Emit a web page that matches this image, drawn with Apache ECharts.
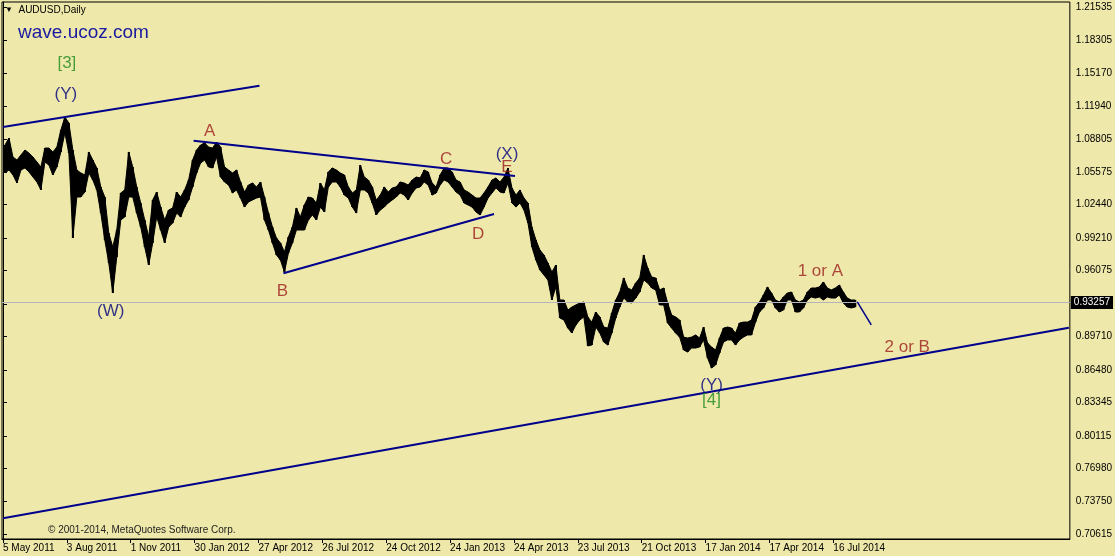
<!DOCTYPE html>
<html><head><meta charset="utf-8">
<script src="https://cdn.jsdelivr.net/npm/echarts@6/dist/echarts.min.js"></script>
<style>html,body{margin:0;padding:0;background:#EEE8AA}#c{width:1115px;height:556px}</style>
</head><body><div id="c"></div>
<script>
// ---- data (AUDUSD daily, sampled every STEP trading days from 5 May 2011) ----
const STEP = 4;
const highs = [
1.0820,1.0888,1.0704,1.0675,1.0724,1.0772,1.0743,1.0704,1.0656,1.0608,
1.0791,1.0791,1.0753,1.0801,1.0965,1.1091,1.1033,1.0772,1.0579,1.0550,
1.0531,1.0753,1.0675,1.0598,1.0415,1.0318,0.9970,0.9835,0.9999,1.0357,
1.0386,1.0753,1.0608,1.0415,1.0260,1.0096,0.9932,1.0289,1.0366,1.0221,
1.0096,1.0192,1.0212,1.0366,1.0318,1.0386,1.0482,1.0675,1.0772,1.0820,
1.0840,1.0801,1.0791,1.0849,1.0801,1.0608,1.0579,1.0550,1.0579,1.0463,
1.0366,1.0434,1.0453,1.0415,1.0463,1.0318,1.0163,1.0028,0.9922,0.9874,
0.9787,0.9932,1.0028,1.0212,1.0125,1.0241,1.0318,1.0308,1.0260,1.0453,
1.0386,1.0560,1.0598,1.0579,1.0550,1.0531,1.0415,1.0357,1.0386,1.0627,
1.0511,1.0482,1.0415,1.0289,1.0337,1.0415,1.0366,1.0405,1.0415,1.0463,
1.0453,1.0434,1.0482,1.0511,1.0502,1.0579,1.0560,1.0453,1.0415,1.0531,
1.0598,1.0598,1.0560,1.0482,1.0463,1.0386,1.0366,1.0337,1.0308,1.0308,
1.0357,1.0415,1.0482,1.0502,1.0463,1.0511,1.0598,1.0405,1.0337,1.0386,
1.0308,1.0260,1.0028,0.9903,0.9806,0.9758,0.9680,0.9593,0.9661,0.9323,
0.9323,0.9226,0.9255,0.9275,0.9294,0.9304,0.9159,0.9110,0.9207,0.9159,
0.9062,0.9052,0.9197,0.9323,0.9400,0.9536,0.9439,0.9420,0.9487,0.9536,
0.9758,0.9632,0.9545,0.9536,0.9420,0.9439,0.9294,0.9178,0.9159,0.9130,
0.8965,0.8956,0.8965,0.8985,0.8956,0.9062,0.8907,0.8869,0.8840,0.8956,
0.9052,0.9062,0.9052,0.9004,0.9101,0.9110,0.9110,0.9130,0.9255,0.9304,
0.9371,0.9449,0.9391,0.9323,0.9304,0.9352,0.9391,0.9400,0.9323,0.9304,
0.9323,0.9400,0.9439,0.9439,0.9449,0.9497,0.9439,0.9420,0.9439,0.9468,
0.9400,0.9342,0.9323,0.9323
];
const lows = [
1.0550,1.0579,1.0531,1.0453,1.0579,1.0598,1.0560,1.0511,1.0463,1.0386,
1.0656,1.0627,1.0531,1.0608,1.0753,1.0936,1.0743,0.9922,1.0318,1.0318,
1.0366,1.0550,1.0482,1.0386,1.0163,0.9903,0.9680,0.9391,0.9738,1.0096,
1.0125,1.0318,1.0318,1.0163,1.0028,0.9835,0.9661,0.9874,1.0125,0.9999,
0.9874,1.0028,1.0067,1.0163,1.0125,1.0221,1.0289,1.0415,1.0550,1.0646,
1.0675,1.0608,1.0598,1.0704,1.0511,1.0463,1.0434,1.0357,1.0386,1.0308,
1.0221,1.0270,1.0289,1.0308,1.0318,1.0096,0.9999,0.9874,0.9758,0.9709,
0.9593,0.9777,0.9874,0.9999,0.9999,0.9999,1.0096,1.0144,1.0096,1.0221,
1.0173,1.0415,1.0463,1.0463,1.0415,1.0337,1.0308,1.0221,1.0163,1.0386,
1.0386,1.0357,1.0260,1.0144,1.0192,1.0221,1.0260,1.0289,1.0318,1.0357,
1.0337,1.0289,1.0357,1.0405,1.0415,1.0463,1.0434,1.0337,1.0357,1.0434,
1.0482,1.0463,1.0415,1.0366,1.0337,1.0260,1.0241,1.0221,1.0173,1.0144,
1.0221,1.0308,1.0357,1.0405,1.0366,1.0357,1.0453,1.0260,1.0221,1.0260,
1.0192,1.0067,0.9835,0.9709,0.9613,0.9565,0.9516,0.9323,0.9449,0.9149,
0.9130,0.9052,0.9004,0.9081,0.9130,0.9159,0.8879,0.8888,0.9062,0.9004,
0.8917,0.8888,0.9004,0.9149,0.9255,0.9342,0.9304,0.9294,0.9342,0.9400,
0.9516,0.9487,0.9439,0.9420,0.9275,0.9275,0.9101,0.9052,0.9004,0.8965,
0.8840,0.8821,0.8859,0.8859,0.8869,0.8937,0.8763,0.8666,0.8695,0.8811,
0.8917,0.8937,0.8937,0.8888,0.8937,0.8965,0.8985,0.8985,0.9110,0.9207,
0.9246,0.9323,0.9323,0.9246,0.9207,0.9226,0.9323,0.9323,0.9207,0.9207,
0.9246,0.9323,0.9352,0.9342,0.9352,0.9323,0.9352,0.9342,0.9342,0.9371,
0.9294,0.9255,0.9246,0.9255
];
const currentPrice = 0.93257;

// tick labels
const dateTickDays = [0,64,128,192,256,320,384,448,512,576,640,704,768,832];
const dateLabels = ['5 May 2011','3 Aug 2011','1 Nov 2011','30 Jan 2012','27 Apr 2012','26 Jul 2012',
  '24 Oct 2012','24 Jan 2013','24 Apr 2013','23 Jul 2013','21 Oct 2013','17 Jan 2014','17 Apr 2014','16 Jul 2014'];
const priceTicks = [1.21535,1.18305,1.15170,1.11940,1.08805,1.05575,1.02440,0.99210,0.96075,
  0.92845,0.89710,0.86480,0.83345,0.80115,0.76980,0.73750,0.70615];

// trend lines [day, price]
const lineY = [[0, 1.0994], [257, 1.1392]];
const lineAC = [[191, 1.0862], [513, 1.0521]];
const lineBD = [[281, 0.9581], [492, 1.0154]];
const lineSupport = [[0, 0.7214], [1068, 0.9055]];
const lineProjection = [[856, 0.9304], [870, 0.9082]];

// wave labels [text, day, price]
const navyLabels = [['(Y)', 63, 1.1313], ['(W)', 108, 0.9217], ['(X)', 505, 1.0733], ['(Y)', 710, 0.8502]];
const redLabels = [['A', 207, 1.0951], ['B', 280, 0.9410], ['C', 444, 1.0685], ['D', 476, 0.9961],
  ['E', 505, 1.0608], ['1 or A', 819, 0.9603], ['2 or B', 906, 0.8869]];
const greenLabels = [['[3]', 64, 1.1612], ['[4]', 710, 0.8357]];

// ---- chart ----
const FONT = 'Liberation Sans';
const barData = highs.map((h, k) => [k * STEP, lows[k], h]);

function renderBar(params, api) {
  const k = params.dataIndex;
  const d = api.value(0);
  const half = STEP / 2;
  const children = [];
  const tl = api.coord([d + half - 1, api.value(2)]);
  const br = api.coord([d + half + 1, api.value(1)]);
  children.push({ type: 'rect', shape: { x: tl[0], y: tl[1], width: br[0] - tl[0], height: Math.max(1, br[1] - tl[1]) },
    style: { fill: '#000' } });
  if (k < barData.length - 1) {
    const n = barData[k + 1];
    const p1 = api.coord([d + half, api.value(2)]);
    const p2 = api.coord([n[0] + half, n[2]]);
    const p3 = api.coord([n[0] + half, n[1]]);
    const p4 = api.coord([d + half, api.value(1)]);
    children.push({ type: 'polygon', shape: { points: [p1, p2, p3, p4] },
      style: { fill: '#000', stroke: '#000', lineWidth: 1 } });
  }
  if (k === 0) {
    const a = api.coord([d, api.value(2)]);
    const b = api.coord([d + half, api.value(1)]);
    children.push({ type: 'rect', shape: { x: a[0], y: a[1], width: b[0] - a[0], height: b[1] - a[1] },
      style: { fill: '#000' } });
  }
  return { type: 'group', children: children };
}
function trend(data, width) {
  return { type: 'line', data: data, symbol: 'none', z: 5, silent: true,
    lineStyle: { color: '#00008b', width: width } };
}
function labels(list, color) {
  return { type: 'scatter', z: 8, silent: true, symbolSize: 1, itemStyle: { color: 'rgba(0,0,0,0)' },
    data: list.map(l => ({ name: l[0], value: [l[1], l[2]] })),
    label: { show: true, position: 'inside', formatter: '{b}', color: color, fontSize: 17, fontFamily: FONT } };
}

const chart = echarts.init(document.getElementById('c'), null, { renderer: 'canvas' });
chart.setOption({
  animation: false,
  backgroundColor: '#EEE8AA',
  title: [
    { left: 5, top: 5, padding: 0, text: '{t|▼}  AUDUSD,Daily',
      textStyle: { fontSize: 10, fontWeight: 'normal', color: '#000', fontFamily: FONT,
        rich: { t: { fontSize: 8, fontFamily: FONT, color: '#000' } } } },
    { left: 18, top: 23, padding: 0, text: 'wave.ucoz.com',
      textStyle: { fontSize: 19, fontWeight: 'normal', color: '#1a1aa0', fontFamily: FONT,
        textShadowColor: '#9a9a9a', textShadowOffsetX: 2, textShadowOffsetY: 2, textShadowBlur: 0 } },
    { left: 48, top: 525, padding: 0, text: '© 2001-2014, MetaQuotes Software Corp.',
      textStyle: { fontSize: 10, fontWeight: 'normal', color: '#222', fontFamily: FONT } }
  ],
  grid: { left: 2, top: 2, right: 43, bottom: 17, show: true, borderColor: '#000', borderWidth: 1,
    backgroundColor: '#EEE8AA', containLabel: false },
  xAxis: {
    type: 'value', min: -1, max: 1069, position: 'bottom',
    axisLine: { show: true, lineStyle: { color: '#000', width: 1 } },
    axisTick: { show: true, customValues: dateTickDays, length: 4, lineStyle: { color: '#000' } },
    axisLabel: { customValues: dateTickDays, formatter: v => dateLabels[dateTickDays.indexOf(v)],
      align: 'left', margin: 4, fontSize: 10, color: '#000', fontFamily: FONT },
    splitLine: { show: false }
  },
  yAxis: {
    type: 'value', position: 'right', min: 0.70143, max: 1.22017,
    axisLine: { show: true, lineStyle: { color: '#000', width: 1 } },
    axisTick: { show: true, customValues: priceTicks, length: 4, lineStyle: { color: '#000' } },
    axisLabel: { customValues: priceTicks, formatter: v => v.toFixed(5), margin: 6, fontSize: 10,
      color: '#000', fontFamily: FONT },
    splitLine: { show: false }
  },
  series: [
    { type: 'line', data: [], z: 1, silent: true,
      markLine: { symbol: 'none', silent: true, animation: false,
        lineStyle: { color: '#b4b4be', type: 'solid', width: 1 },
        label: { show: true, position: 'end', distance: 1, formatter: currentPrice.toFixed(5),
          backgroundColor: '#000', color: '#fff', padding: [2, 3, 1, 3], fontSize: 10, fontFamily: FONT },
        data: [{ yAxis: currentPrice }] } },
    { type: 'custom', z: 2, silent: true, renderItem: renderBar, data: barData,
      encode: { x: 0, y: [1, 2] } },
    trend(lineY, 2), trend(lineAC, 2), trend(lineBD, 2), trend(lineSupport, 2), trend(lineProjection, 1.5),
    labels(navyLabels, '#000080'),
    labels(redLabels, '#9b1b1b'),
    labels(greenLabels, '#1e8c1e')
  ]
});
</script>
</body></html>
